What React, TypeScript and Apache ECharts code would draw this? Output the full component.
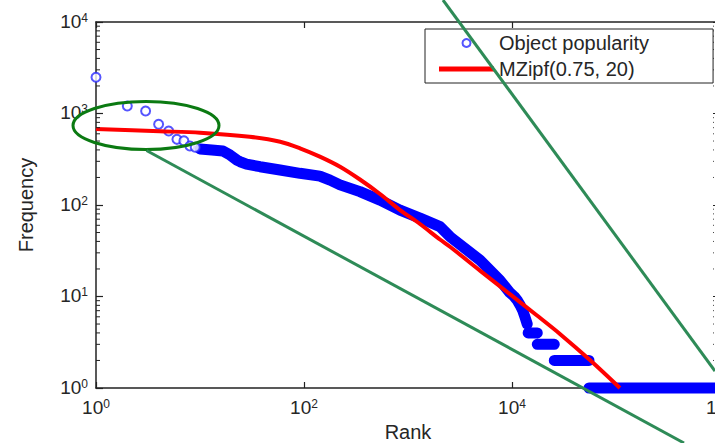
import React, { useEffect, useRef } from 'react';
import * as echarts from 'echarts';

// ---- data ----
const popularityRanks = [1, 2, 3, 4, 5, 6, 7, 8, 9];
const popularityFreqs = [2490, 1208, 1064, 762, 644, 522, 502, 442, 428];

// dense part of the same measurement (overlapping markers form a band); null = gap
const bandRanks = [10, 13, 16.6, 19.5, 22.6, 24.3, 28, 37.8, 58.8, 91.5, 142, 178, 222, 345, 538, 838, 1304, 2030, 2535, 4924, 7670, 9550,
  10500, 11300, 12000, 12700, 13300, 14000, null, 14300, 17500, null, 17500, 25500, null, 25500, 55000, null, 55000, 1000000];
const bandFreqs = [410, 400, 390, 351, 310, 297, 280, 262, 241, 222, 207, 187, 166, 140, 113, 88, 72, 58, 45, 25, 15, 11,
  10, 9, 8, 7, 6, 5, null, 4, 4, null, 3, 3, null, 2, 2, null, 1, 1];

const mzipfRanks = [1, 4.1, 10, 30, 59, 91.5, 142, 222, 345, 538, 838, 1304, 2030, 2535, 4924, 9550, 17400, 28900, 56200, 109000];
const mzipfFreqs = [678, 640, 617, 557, 492, 417, 338, 262, 190, 132, 88, 62, 42, 35, 19.2, 10.6, 6.2, 3.9, 2.02, 1];

const yMinorTicks = [2, 3, 4, 5, 6, 7, 8, 9, 20, 30, 40, 50, 60, 70, 80, 90,
  200, 300, 400, 500, 600, 700, 800, 900, 2000, 3000, 4000, 5000, 6000, 7000, 8000, 9000];

const seriesNames = ['Object popularity', 'MZipf(0.75, 20)'];
const xName = 'Rank';
const yName = 'Frequency';

const FONT = "'Liberation Sans', Arial, Helvetica, sans-serif";
const TXT = '#262626';

const powLabel = (v: number) => `{b|10}{s|${Math.round(Math.log10(v))}}`;
const richLabel = {
  b: { fontSize: 19, lineHeight: 19, padding: [7, 0, 0, 0], verticalAlign: 'bottom', color: TXT, fontFamily: FONT },
  s: { fontSize: 12, lineHeight: 12, verticalAlign: 'top', color: TXT, fontFamily: FONT },
};

export default function App() {
  const ref = useRef<HTMLDivElement>(null);
  useEffect(() => {
    if (!ref.current) return;
    const chart = echarts.init(ref.current, undefined, { renderer: 'svg' });
    const band = bandRanks.map((r, i) => (r == null ? ['-', '-'] : [r, bandFreqs[i]]));
    const axisLine = { show: true, onZero: false, lineStyle: { color: '#222', width: 1.5 } };
    chart.setOption({
      animation: false,
      backgroundColor: '#fff',
      grid: { left: 96, right: -5, top: 22, bottom: 55, outerBoundsMode: 'none', containLabel: false },
      legend: {
        data: [
          { name: seriesNames[0] },
          { name: seriesNames[1], icon: 'path://M0 0H55V5H0Z', itemStyle: { color: '#ff0000' } },
        ],
        orient: 'vertical',
        left: 425,
        top: 29,
        itemWidth: 55,
        itemHeight: 8,
        itemGap: 6,
        padding: [4, 64, 4, 14],
        borderColor: '#222',
        borderWidth: 1,
        backgroundColor: '#fff',
        textStyle: { fontSize: 20, lineHeight: 20, fontFamily: FONT, color: TXT },
        z: 20,
      },
      xAxis: [
        {
          type: 'log', logBase: 100, min: 1, max: 1000000, position: 'bottom',
          axisLine, axisTick: { inside: true, length: 6, lineStyle: { color: '#222', width: 1.2 } },
          splitLine: { show: false },
          axisLabel: { formatter: powLabel, rich: richLabel, margin: 10 },
          name: xName, nameLocation: 'middle', nameGap: 33,
          nameTextStyle: { fontSize: 20, fontFamily: FONT, color: TXT },
        },
        {
          type: 'log', logBase: 100, min: 1, max: 1000000, position: 'top',
          axisLine, axisTick: { inside: true, length: 6, lineStyle: { color: '#222', width: 1.2 } },
          splitLine: { show: false }, axisLabel: { show: false },
        },
      ],
      yAxis: [
        {
          type: 'log', min: 1, max: 10000, position: 'left',
          axisLine, axisTick: { inside: true, length: 7, lineStyle: { color: '#222', width: 1.2 } },
          splitLine: { show: false },
          axisLabel: { formatter: powLabel, rich: richLabel, margin: 8, padding: [0, 0, 2, 0] },
          name: yName, nameLocation: 'middle', nameGap: 60,
          nameTextStyle: { fontSize: 20, fontFamily: FONT, color: TXT },
        },
        {
          type: 'log', min: 1, max: 10000, position: 'right',
          axisLine, axisTick: { inside: true, length: 7, lineStyle: { color: '#222', width: 1.2 } },
          splitLine: { show: false }, axisLabel: { show: false },
        },
      ],
      series: [
        {
          name: seriesNames[0], type: 'scatter', symbol: 'emptyCircle', symbolSize: 9,
          itemStyle: { color: '#2a2aff', borderColor: '#2a2aff', borderWidth: 1.3 },
          data: popularityRanks.map((r, i) => [r, popularityFreqs[i]]),
          z: 3,
        },
        {
          name: 'band', type: 'line', symbol: 'none', connectNulls: false, clip: false,
          lineStyle: { color: '#0000ff', width: 11, cap: 'round', join: 'round' },
          data: band, z: 3,
        },
        {
          name: seriesNames[1], type: 'line', symbol: 'none', smooth: 0.3, clip: false,
          itemStyle: { color: '#ff0000' },
          lineStyle: { color: '#ff0000', width: 4 },
          data: mzipfRanks.map((r, i) => [r, mzipfFreqs[i]]),
          z: 4,
        },
        {
          name: 'minorTicks', type: 'custom', silent: true, clip: false, z: 5,
          data: yMinorTicks.map((v) => [1, v]),
          renderItem: (params: any, api: any) => {
            const v = api.value(1);
            const l = api.coord([1, v]);
            const r = api.coord([1000000, v]);
            return {
              type: 'group',
              children: [
                { type: 'line', shape: { x1: l[0], y1: l[1], x2: l[0] + 4, y2: l[1] }, style: { stroke: '#222', lineWidth: 1 } },
                { type: 'line', shape: { x1: r[0] - 7, y1: r[1], x2: r[0], y2: r[1] }, style: { stroke: '#444', lineWidth: 1, lineDash: [1, 1] } },
              ],
            };
          },
        },
      ],
      graphic: [
        { type: 'ellipse', z: 100, shape: { cx: 146, cy: 125.5, rx: 73, ry: 24 }, style: { fill: 'none', stroke: '#0b7a12', lineWidth: 3 } },
        { type: 'line', z: 100, shape: { x1: 146.5, y1: 150.5, x2: 684, y2: 443 }, style: { stroke: '#2e8b57', lineWidth: 3 } },
        { type: 'line', z: 100, shape: { x1: 443, y1: 0, x2: 715, y2: 371 }, style: { stroke: '#2e8b57', lineWidth: 3 } },
      ],
    });
    return () => chart.dispose();
  }, []);
  return <div ref={ref} style={{ position: 'fixed', left: 0, top: 0, width: 715, height: 443 }} />;
}
